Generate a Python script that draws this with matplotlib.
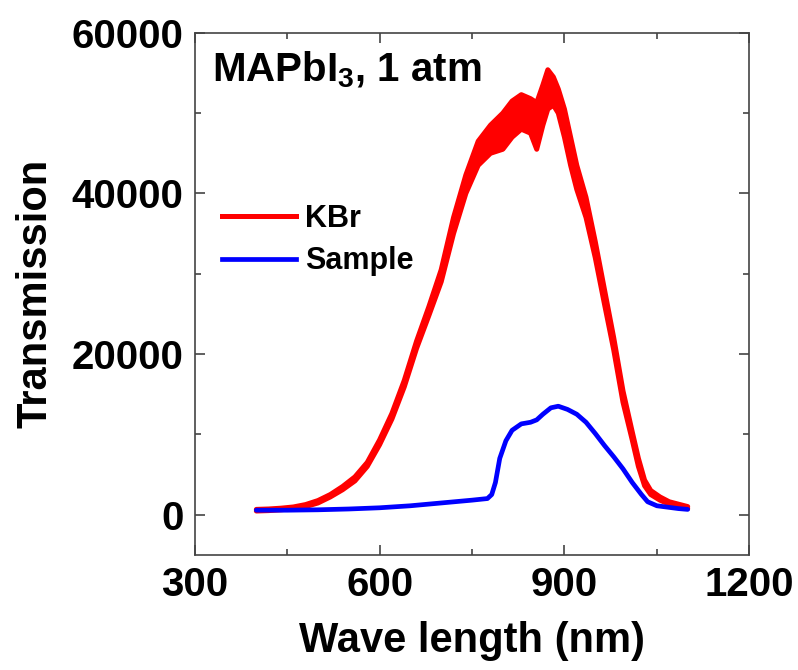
import matplotlib
matplotlib.use('Agg')
import matplotlib.pyplot as plt
from matplotlib.ticker import MultipleLocator
from matplotlib.lines import Line2D
import numpy as np

plt.rcParams['font.family'] = ['Liberation Sans', 'DejaVu Sans']
plt.rcParams['font.weight'] = 'bold'
plt.rcParams['mathtext.fontset'] = 'custom'
plt.rcParams['mathtext.rm'] = 'Liberation Sans:bold'
plt.rcParams['mathtext.bf'] = 'Liberation Sans:bold'

# KBr reference: noisy trace, read as lower / upper edge of the band
kbr_wl = [400, 420, 440, 460, 480, 500, 520, 540, 560, 580, 600, 620, 640, 660,
          680, 700, 720, 740, 760, 780, 800, 815, 830, 845, 855, 865, 873, 882,
          890, 900, 910, 920, 935, 950, 965, 980, 995, 1010, 1020, 1030, 1040,
          1055, 1070, 1085, 1100]
kbr_lo = [450, 500, 600, 750, 1000, 1450, 2200, 3100, 4200, 6000, 8700, 11900,
          15900, 20700, 24800, 29000, 35000, 40000, 43500, 45000, 45500, 47000,
          48000, 47500, 45500, 48500, 50500, 51000, 50000, 47000, 43500, 40500,
          37000, 32000, 26200, 20500, 14000, 9300, 6000, 3600, 2500, 1800, 1300,
          1000, 750]
kbr_hi = [650, 700, 800, 950, 1250, 1750, 2500, 3500, 4700, 6500, 9300, 12600,
          16700, 21600, 25900, 30500, 37000, 42300, 46500, 48500, 50000, 51500,
          52300, 51800, 51300, 53500, 55400, 54500, 53000, 50500, 47000, 43500,
          39500, 34000, 28000, 22000, 15400, 10300, 7000, 4300, 3000, 2200, 1600,
          1300, 1000]

# sample trace
smp_wl = [400, 450, 500, 550, 600, 650, 700, 750, 775, 782, 788, 795, 805, 815,
          830, 845, 855, 865, 878, 890, 905, 920, 935, 950, 965, 980, 995, 1010,
          1025, 1035, 1050, 1070, 1085, 1100]
smp_val = [550, 550, 600, 700, 850, 1100, 1450, 1800, 2000, 2500, 4000, 7000,
           9200, 10500, 11300, 11500, 11800, 12500, 13300, 13500, 13100, 12500,
           11500, 10100, 8600, 7200, 5700, 4000, 2500, 1600, 1100, 900, 750, 650]

fig = plt.figure(figsize=(7.98, 6.70), dpi=100)
ax = fig.add_axes([0.244, 0.172, 0.695, 0.779])

ax.fill_between(kbr_wl, kbr_lo, kbr_hi, color='#ff0000', lw=0)
ax.plot(kbr_wl, kbr_lo, color='#ff0000', lw=3.6, solid_capstyle='round')
ax.plot(kbr_wl, kbr_hi, color='#ff0000', lw=3.6, solid_capstyle='round')
ax.plot(smp_wl, smp_val, color='#0000ff', lw=3.4, solid_capstyle='round')

ax.set_xlim(300, 1200)
ax.set_ylim(-5000, 60000)
ax.xaxis.set_major_locator(MultipleLocator(300))
ax.xaxis.set_minor_locator(MultipleLocator(150))
ax.yaxis.set_major_locator(MultipleLocator(20000))
ax.yaxis.set_minor_locator(MultipleLocator(10000))

for s in ax.spines.values():
    s.set_color('#444444')
    s.set_linewidth(1.2)
ax.tick_params(which='both', direction='in', top=True, right=True,
               color='#444444', width=1.2)
ax.tick_params(which='major', length=7, labelsize=29, pad=8)
ax.tick_params(which='minor', length=4.5)

ax.set_xlabel('Wave length (nm)', fontsize=30, fontweight='bold', labelpad=12)
ax.set_ylabel('Transmission', fontsize=30, fontweight='bold', labelpad=12)

ax.text(0.031, 0.968, r'MAPbI$_{\mathbf{3}}$, 1 atm', transform=ax.transAxes,
        fontsize=29, fontweight='bold', ha='left', va='top')

handles = [Line2D([], [], color='#ff0000', lw=3.6),
           Line2D([], [], color='#0000ff', lw=3.4)]
ax.legend(handles, ['KBr', 'Sample'], loc='upper left',
          bbox_to_anchor=(0.05, 0.672), frameon=False,
          handlelength=2.4, handletextpad=0.3, labelspacing=0.4,
          borderpad=0, borderaxespad=0, prop={'weight': 'bold', 'size': 22})

fig.savefig('out.png', dpi=100)
